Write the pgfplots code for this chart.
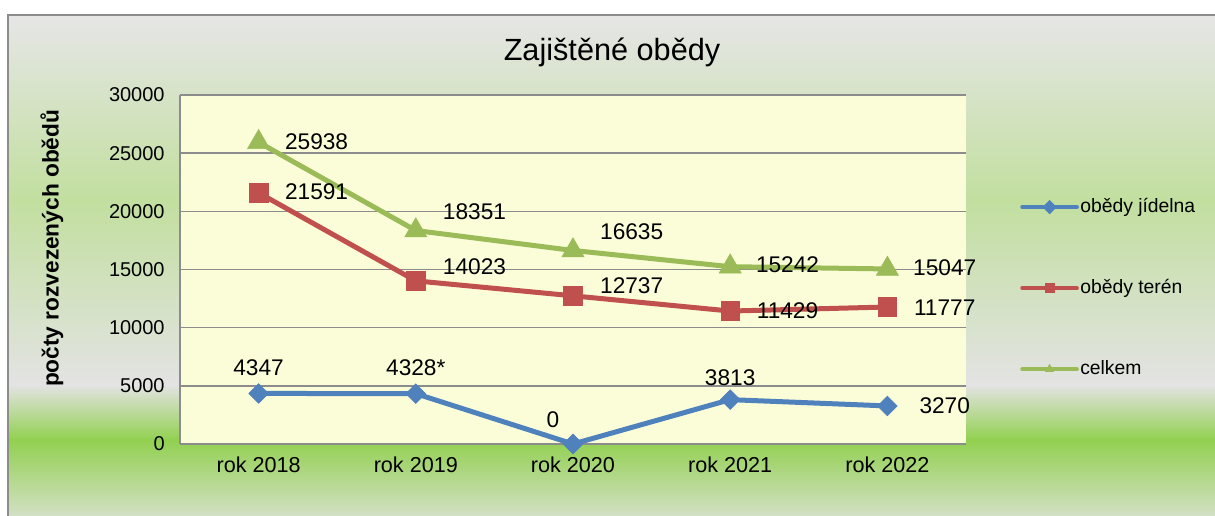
\documentclass[border=0pt]{standalone}
\usepackage{fontspec}
\setmainfont{Liberation Sans}
\usepackage{pgfplots}
\pgfplotsset{compat=1.18}
\usepackage{pgfplotstable}
\definecolor{cblue}{HTML}{4F81BD}
\definecolor{cred}{HTML}{C0504D}
\definecolor{cgreen}{HTML}{9BBB59}
\definecolor{plotbg}{HTML}{FBFDD8}
\definecolor{bgA}{HTML}{E6E6E6}
\definecolor{bgB}{HTML}{C2DF9F}
\definecolor{bgC}{HTML}{E3E3E3}
\definecolor{bgD}{HTML}{92D050}
\definecolor{bgE}{HTML}{D8E1CE}
\definecolor{gridc}{HTML}{8C8C8C}

\pgfplotstableread{
x y lab dx dy
0 4347 4347 0 19.5
1 4328 4328* 0 19.5
2 0 0 -15 18
3 3813 3813 0 16.5
4 3270 3270 43 0
}\jidelna
\pgfplotstableread{
x y lab dx dy
0 21591 21591 43.5 0.75
1 14023 14023 44 10.5
2 12737 12737 44 7.5
3 11429 11429 43 0
4 11777 11777 43 -0.75
}\teren
\pgfplotstableread{
x y lab dx dy
0 25938 25938 43.5 0.75
1 18351 18351 44 14
2 16635 16635 44 14
3 15242 15242 43 1.5
4 15047 15047 43 0.75
}\celkem

\pgfplotsset{labelled/.style={
  point meta=explicit symbolic,
  nodes near coords,
  visualization depends on={\thisrow{dx}\as\dx},
  visualization depends on={\thisrow{dy}\as\dy},
  nodes near coords style={anchor=center, xshift=\dx pt, yshift=\dy pt, font=\fontsize{17}{19}\selectfont, text=black},
}}

\begin{document}
\begin{tikzpicture}
\useasboundingbox (0,0) rectangle (911.25pt,386.25pt);
\clip (0,0) rectangle (911.25pt,386.25pt);
\fill[white] (0,0) rectangle (911.25pt,386.25pt);
% background gradient inside frame
\shade[top color=bgA, bottom color=bgB] (6pt,236.25pt) rectangle (930pt,375pt);
\shade[top color=bgB, bottom color=bgC] (6pt,97.5pt) rectangle (930pt,236.3pt);
\shade[top color=bgC, bottom color=bgD] (6pt,56.25pt) rectangle (930pt,97.6pt);
\shade[top color=bgD, bottom color=bgE] (6pt,-5pt) rectangle (930pt,56.3pt);
\draw[gridc, line width=1.2pt] (6pt,-10pt) rectangle (930pt,375pt);
% title and y label
\node[anchor=base, font=\fontsize{23}{25}\selectfont] at (459pt,340.7pt) {Zajištěné obědy};
\node[rotate=90, font=\bfseries\fontsize{17}{19}\selectfont] at (39pt,200pt) {počty rozvezených obědů};
\begin{axis}[
  at={(135pt,53.25pt)}, anchor=south west,
  scale only axis, width=589.5pt, height=261.75pt,
  xmin=-0.5, xmax=4.5, ymin=0, ymax=30000,
  xtick={0,1,2,3,4},
  xticklabels={rok 2018,rok 2019,rok 2020,rok 2021,rok 2022},
  ytick={0,5000,10000,15000,20000,25000,30000},
  scaled y ticks=false,
  /pgf/number format/assume math mode=true,
  /pgf/number format/1000 sep={},
  axis lines=left,
  axis line style={-, gridc, line width=1.1pt},
  axis background/.style={fill=plotbg},
  ymajorgrids, grid style={gridc, line width=1.1pt},
  major tick length=0pt,
  yticklabel style={font=\fontsize{15}{16}\selectfont, anchor=east, xshift=-8pt},
  xticklabel style={font=\fontsize{16.2}{18}\selectfont, yshift=-6pt},
  clip=false,
  legend cell align=left,
  legend style={draw=none, fill=none, at={(1.0687,0.71)}, anchor=north west,
    font=\fontsize{14.5}{16}\selectfont, row sep=44.75pt, inner sep=0pt,
    nodes={inner sep=1pt, text height=11pt, text depth=3pt}},
  legend image code/.code={
    \draw[mark repeat=2, mark phase=2, line width=3pt, line cap=round, mark size=3.5pt]
      plot coordinates {(0pt,0pt) (20.5pt,0pt) (41pt,0pt)};},
]
\addplot[cblue, line width=3.75pt, mark=square*, mark size=5.2pt, mark options={rotate=45, line width=0.5pt}, labelled]
  table[x=x, y=y, meta=lab] {\jidelna};
\addlegendentry{obědy jídelna}
\addplot[cred, line width=3.75pt, mark=square*, mark size=7pt, mark options={line width=0.5pt}, labelled]
  table[x=x, y=y, meta=lab] {\teren};
\addlegendentry{obědy terén}
\addplot[cgreen, line width=3.75pt, mark=triangle*, mark size=9.5pt, mark options={line width=0.5pt}, labelled]
  table[x=x, y=y, meta=lab] {\celkem};
\addlegendentry{celkem}
\end{axis}
\end{tikzpicture}
\end{document}
